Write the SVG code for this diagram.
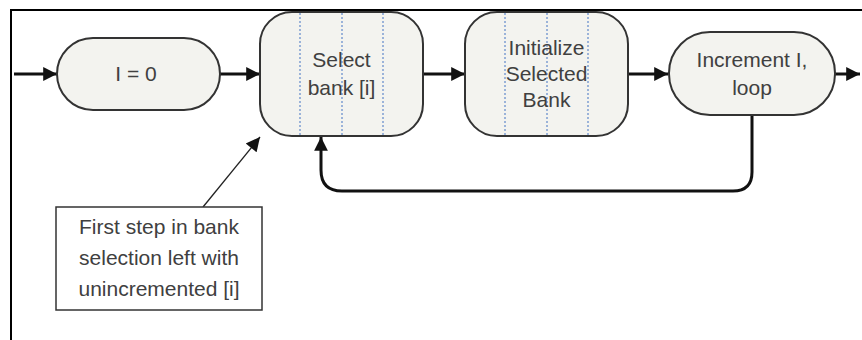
<svg xmlns="http://www.w3.org/2000/svg" width="862" height="340" viewBox="0 0 862 340">
<style>
.node{fill:#f3f3ef;stroke:#333;stroke-width:2}
.grid{stroke:#7f9fd2;stroke-width:1.5;stroke-dasharray:2,2}
.t{font-family:"Liberation Sans",Arial,sans-serif;font-size:21px;fill:#404040;text-anchor:middle}
.c{fill:none;stroke:#111;stroke-width:3}
.thin{fill:none;stroke:#222;stroke-width:1.3}
</style>
<defs>
<marker id="big" viewBox="0 0 10 10" refX="10" refY="5" markerWidth="6" markerHeight="4.6" orient="auto">
<path d="M0,0 L10,5 L0,10 z" fill="#111"/>
</marker>
<marker id="thinh" viewBox="0 0 10 10" refX="10" refY="5" markerWidth="18" markerHeight="14" markerUnits="userSpaceOnUse" orient="auto">
<path d="M0,0 L10,5 L0,10 z" fill="#111"/>
</marker>
</defs>
<rect width="862" height="340" fill="#fff"/>
<path d="M11,340 V10 H862" fill="none" stroke="#000" stroke-width="2"/>
<g id="connectors">
<path class="c" d="M14,74 H57" marker-end="url(#big)"/>
<path class="c" d="M220,74 H260" marker-end="url(#big)"/>
<path class="c" d="M423,74 H465" marker-end="url(#big)"/>
<path class="c" d="M628,74 H668" marker-end="url(#big)"/>
<path class="c" d="M835,74 H860" marker-end="url(#big)"/>
<path class="c" d="M752,115 V172 Q752,191 733,191 H342 Q321,191 321,170 V137" marker-end="url(#big)"/>
<path class="thin" d="M203,207 L260,137" marker-end="url(#thinh)"/>
</g>
<g id="n-i0">
<rect class="node" x="57" y="38" width="163" height="72" rx="36" ry="36"/>
<text class="t" x="136" y="81">I = 0</text>
</g>
<g id="n-select">
<rect class="node" x="260" y="12" width="163" height="124" rx="32" ry="32"/>
<line class="grid" x1="300" y1="13" x2="300" y2="135"/>
<line class="grid" x1="342" y1="13" x2="342" y2="135"/>
<line class="grid" x1="383" y1="13" x2="383" y2="135"/>
<text class="t" x="341.5" y="67">Select</text>
<text class="t" x="341.5" y="95">bank [i]</text>
</g>
<g id="n-init">
<rect class="node" x="465" y="12" width="163" height="124" rx="32" ry="32"/>
<line class="grid" x1="505" y1="13" x2="505" y2="135"/>
<line class="grid" x1="547" y1="13" x2="547" y2="135"/>
<line class="grid" x1="588" y1="13" x2="588" y2="135"/>
<text class="t" x="546.5" y="55">Initialize</text>
<text class="t" x="546.5" y="81">Selected</text>
<text class="t" x="546.5" y="107">Bank</text>
</g>
<g id="n-inc">
<rect class="node" x="669" y="32" width="166" height="83" rx="41" ry="41"/>
<text class="t" x="752" y="67">Increment I,</text>
<text class="t" x="752" y="95">loop</text>
</g>
<g id="note">
<rect x="56" y="207" width="206" height="103" fill="#fff" stroke="#333" stroke-width="1.5"/>
<text class="t" x="159" y="234">First step in bank</text>
<text class="t" x="159" y="265">selection left with</text>
<text class="t" x="159" y="296">unincremented [i]</text>
</g>
</svg>
